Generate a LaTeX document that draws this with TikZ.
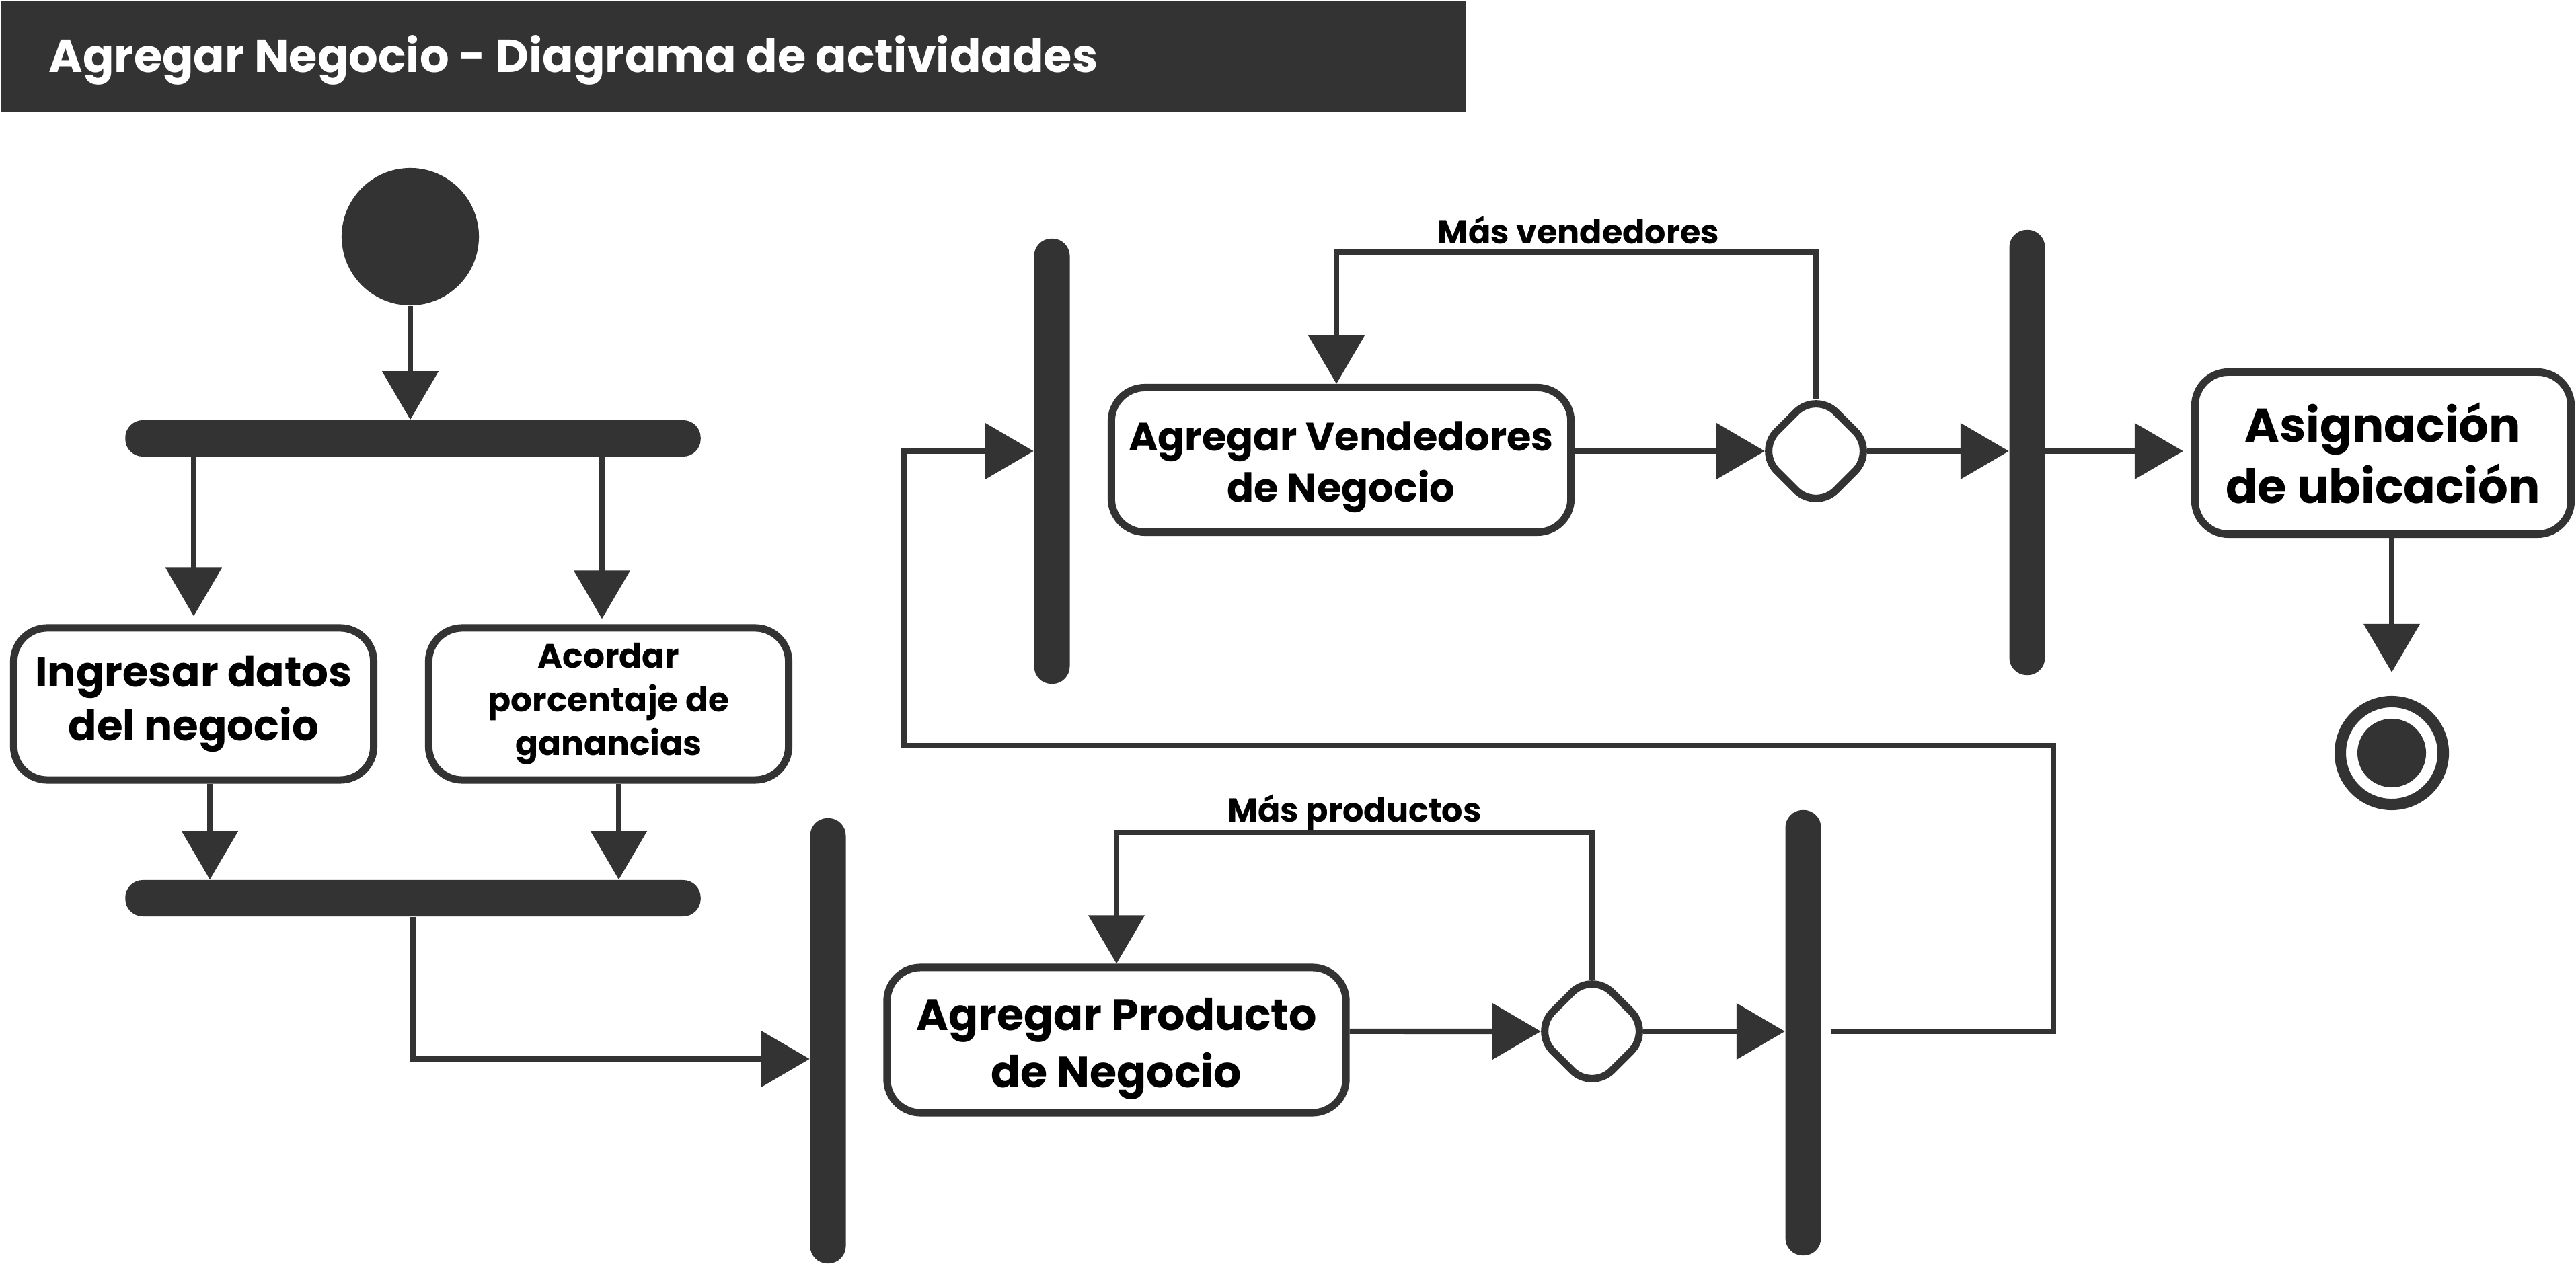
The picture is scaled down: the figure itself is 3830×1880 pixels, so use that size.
\documentclass[tikz,border=0pt]{standalone}
\usepackage{fontspec}
\setmainfont{Poppins}
\usetikzlibrary{arrows.meta,shapes.geometric}
\definecolor{dk}{HTML}{333333}
\begin{document}
\begin{tikzpicture}[x=0.01cm,y=-0.01cm,
  conn/.style={draw=dk,line width=0.08cm,-{Triangle[width=0.82cm,length=0.72cm]}},
  hbar/.style={fill=dk,inner sep=0pt,minimum width=8.55cm,minimum height=0.54cm,rounded corners=0.26cm},
  vbar/.style={fill=dk,inner sep=0pt,minimum width=0.53cm,minimum height=6.62cm,rounded corners=0.26cm},
  act/.style={draw=dk,line width=0.11cm,fill=white,rounded corners=0.5cm,align=center,inner sep=0pt,text=black},
  dec/.style={rectangle,rotate=45,draw=dk,line width=0.11cm,fill=white,rounded corners=0.42cm,minimum size=1.24cm,inner sep=0pt},
  lbl/.style={font=\bfseries\fontsize{14}{16}\selectfont,inner sep=0pt,text=black,anchor=south}]

\fill[white] (0,0) rectangle (3830,1880);
\useasboundingbox (0,0) rectangle (3830,1880);

% title
\node[fill=dk,inner sep=0pt,minimum width=21.78cm,minimum height=1.65cm,anchor=north west] (title) at (0,0) {};
\node[anchor=base west,text=white,font=\bfseries\fontsize{19.5}{24}\selectfont,inner sep=0pt] (ttext) at (72,108) {Agregar Negocio - Diagrama de actividades};

% nodes
\node[circle,fill=dk,minimum size=2.04cm,inner sep=0pt] (start) at (610,352) {};
\node[hbar] (f1) at (614,652) {};
\node[act,minimum width=5.35cm,minimum height=2.26cm,font=\bfseries\fontsize{17.8}{22.5}\selectfont] (b1) at (288,1047) {Ingresar datos\\del negocio};
\node[act,minimum width=5.35cm,minimum height=2.26cm,font=\bfseries\fontsize{14.3}{18.5}\selectfont] (b2) at (905,1047) {Acordar\\porcentaje de\\ganancias};
\node[hbar] (f2) at (614,1336) {};
\node[vbar] (bar3) at (1231,1548) {};
\node[act,minimum width=6.82cm,minimum height=2.16cm,text height=45pt,font=\bfseries\fontsize{18.5}{24}\selectfont] (b3) at (1660,1547) {Agregar Producto\\de Negocio};
\node[dec] (dec1) at (2367,1534) {};
\node[vbar] (bar4) at (2681,1536) {};
\node[vbar] (bar5) at (1564,686) {};
\node[act,minimum width=6.83cm,minimum height=2.15cm,text height=40pt,font=\bfseries\fontsize{16.8}{21.5}\selectfont] (b4) at (1994,684) {Agregar Vendedores\\de Negocio};
\node[dec] (dec2) at (2700,671) {};
\node[vbar] (bar6) at (3014,673) {};
\node[act,minimum width=5.59cm,minimum height=2.41cm,font=\bfseries\fontsize{20}{26}\selectfont] (b5) at (3543,674) {Asignación\\de ubicación};
\node[circle,draw=dk,line width=0.17cm,minimum size=1.53cm,inner sep=0pt] (end) at (3556,1120) {};
\node[circle,fill=dk,minimum size=1.02cm,inner sep=0pt] (endin) at (end.center) {};

\coordinate (lp1) at (1660,1238);
\coordinate (lp2) at (1987,375);
\coordinate (r1) at (3053,1109);
\coordinate (r2) at (1344,1109);
\coordinate (d1w) at ([xshift=-0.76cm]dec1.center);
\coordinate (d1e) at ([xshift=0.76cm]dec1.center);
\coordinate (d1n) at ([yshift=0.77cm]dec1.center);
\coordinate (d2w) at ([xshift=-0.76cm]dec2.center);
\coordinate (d2e) at ([xshift=0.76cm]dec2.center);
\coordinate (d2n) at ([yshift=0.77cm]dec2.center);

% connectors
\draw[conn] (start.south) -- (start.south |- f1.north);
\draw[conn,shorten >=0.12cm] (b1.north |- f1.south) -- (b1.north);
\draw[conn,shorten >=0.08cm] ([xshift=-0.1cm]b2.north |- f1.south) -- ([xshift=-0.1cm]b2.north);
\draw[conn] ([xshift=0.24cm]b1.south) -- ([xshift=0.24cm]b1.south |- f2.north);
\draw[conn] ([xshift=0.15cm]b2.south) -- ([xshift=0.15cm]b2.south |- f2.north);
\draw[conn] (f2.south) |- ([yshift=-0.27cm]bar3.west);
\draw[conn] ([yshift=0.13cm]b3.east) -- (d1w);
\draw[conn] (d1e) -- (d1e -| bar4.west);
\draw[conn] (d1n) |- (lp1) -- (b3.north);
\node[lbl] (l1) at (2014,1236) {Más productos};
\draw[conn] ([xshift=0.15cm]bar4.east |- dec1) -| (r1) -- (r2) |- (bar5.west |- dec2);
\draw[conn] ([yshift=0.13cm]b4.east) -- (d2w);
\draw[conn] (d2e) -- (d2e -| bar6.west);
\draw[conn] (d2n) |- (lp2) -- (lp2 |- b4.north);
\node[lbl] (l2) at (2347,364) {Más vendedores};
\draw[conn,shorten >=0.12cm] (bar6.east |- dec2) -- (b5.west |- dec2);
\draw[conn,shorten >=0.35cm] (end.north |- b5.south) -- (end.north);
\end{tikzpicture}
\end{document}
